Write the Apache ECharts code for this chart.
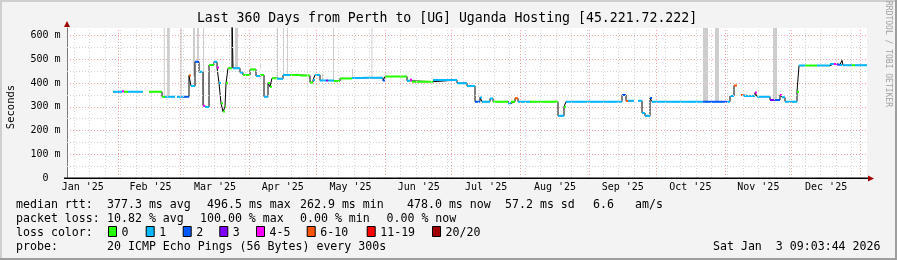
<!DOCTYPE html>
<html><head><meta charset="utf-8">
<script src="https://cdn.jsdelivr.net/npm/echarts@6/dist/echarts.min.js"></script>
<style>html,body{margin:0;padding:0;background:#f3f3f3}#c{width:897px;height:260px}</style>
</head><body><div id="c"></div>
<script>
// x values are days since 1 Jan 2025 (Feb 1 = 31)
const segStart = [28.6,32.65,33.55,35.35, 44.8,50.65,52, 57.4,60.1,62.8,63.7,65.5,67.3,69.1,70.0,71.8,74.05,75.4,76.3,77.2,78.1,79.0,79.45,80.35,82.15,82.6,85.75,87.1,90.25,92.95,94.75,96.55,98.35,99.25,100.15,102.4,105.1,108.25,112.75,117.25,118.6,119.5,121.75,124.5,125.4,128,130.75,136.15,141.1,150.1,151.0,160.9,162.25,163.15,172.6,183.4,187.9,191.5,193.75,194.65,198.25,199.6,206.35,207.7,209.5,210.85,216.25,228.85,231.55,232.45,247.75,257.65,259.45,260.35, 264.85,266.65,268.0,270.25,271.15,294.1,304.9,306.25,308.05, 311.2,312.1,317.5,318.4,324.25,326.5,328.75,329.65,331.0,336.4,337.3,340.0,345.4,351.25,353,354.5,355.75,356.65,357.1,361,362.5];
const segEnd   = [32.65,33.55,35.35,42.1, 50.65,52,56.5, 60.1,62.8,63.7,65.5,67.3,69.1,70.0,71.8,74.05,75.4,76.3,77.2,78.1,79.0,79.45,80.35,82.15,82.6,85.75,87.1,90.25,92.95,94.75,96.55,98.35,99.25,100.15,102.4,105.1,108.25,112.75,117.25,118.6,119.5,121.75,124.5,125.4,128,130.75,136.15,141.1,150.1,151.0,160.9,162.25,163.15,172.6,183.4,187.9,191.5,193.75,194.65,198.25,199.6,206.35,207.7,209.5,210.85,216.25,228.85,231.55,232.45,247.75,257.65,259.45,260.35,263.05, 266.65,268.0,270.25,271.15,294.1,304.9,306.25,308.05,309.4, 312.1,317.5,318.4,324.25,326.5,328.75,329.65,331.0,336.4,337.3,340.0,345.4,351.25,353,354.5,355.75,356.65,357.1,361,362.5,367.9];
const segValue = [364,366,364,364, 364,343,343, 343,343,432,388,490,448,305,299,477,490,466,401,315,280,300,400,463,700,463,445,434,458,430,434,343,401,385,421,418,434,434,432,403,413,434,411,411,411,409,420,422,423,411,428,410,414,406,413,400,388,322,339,322,335,322,315,322,336,322,322,262,300,322,322,350,325,326, 326,274,262,337,322,322,322,346,390, 350,346,360,343,329,329,350,340,322,364,474,474,474,481,481,478,476,496,475,475,475];
const segLoss  = [1,4,0,1, 0,0,1, 1,2,5,1,2,1,4,1,0,1,4,1,0,0,0,0,0,-1,1,1,0,0,1,0,1,0,0,0,1,1,0,0,0,1,1,1,3,1,0,0,1,1,2,0,1,4,0,1,1,1,2,1,1,1,0,1,0,5,1,0,1,0,1,1,2,5,1, 1,1,1,2,1,2,1,1,5, 5,1,4,1,3,2,4,1,1,0,1,0,1,1,4,2,1,-1,1,0,1];

// gray "smoke" columns: start day, end day, low value, high value
const smokeStart = [51.45,52.9,58.95,64.6,66.4,69.1,83.5,94.75,102.4,105.1,106.9,122.65,127.6,136.15,144.9,294.1,299.5,325.6];
const smokeEnd   = [51.9,54.15,59.5,65.5,67.3,69.6,84.85,95.2,102.85,105.55,107.35,123.1,128.05,136.6,145.35,296.35,301.3,327.4];
const smokeLow   = [343,343,343,430,490,310,463,463,420,434,434,411,410,422,423,322,322,329];
const smokeHigh  = [640,640,640,640,640,640,640,480,640,640,640,440,640,460,640,640,640,640];

const monthStarts = [31,59,90,120,151,181,212,243,273,304,334,365];
const monthLabelPos = [15,45.5,74.5,105,135.5,166.2,196.5,227.5,258,288.4,319,349.5];
const monthLabels = ["Jan '25","Feb '25","Mar '25","Apr '25","May '25","Jun '25","Jul '25","Aug '25","Sep '25","Oct '25","Nov '25","Dec '25"];
const weekLines = [11,18,25,32,39,46,53,60,67,74,81,88,95,102,109,116,123,130,137,144,151,158,165,172,179,186,193,200,207,214,221,228,235,242,249,256,263,270,277,284,291,298,305,312,319,326,333,340,347,354,361];
const yMinorLines = [50,150,250,350,450,550];

const lossColors = ['#26ff00','#00b8ff','#0059ff','#7e00ff','#ff00ff','#ff5500','#ff0000','#a10000'];
const lossLabels = ['0','1','2','3','4-5','6-10','11-19','20/20'];
const lossBoxX = [108,145.7,182.7,219.3,256,306.7,366.7,432];

const X_MIN = 7.9, X_MAX = 367.9, Y_MAX = 632.5;
const MONO = '"DejaVu Sans Mono"';

// black median path
const blackData = [];
for (let i = 0; i < segStart.length; i++) {
  if (i > 0 && Math.abs(segStart[i] - segEnd[i-1]) > 0.01) blackData.push(null);
  blackData.push([segStart[i], segValue[i]]);
  blackData.push([segEnd[i], segValue[i]]);
}
const colorSeries = lossColors.map((c, k) => {
  const d = [];
  for (let i = 0; i < segStart.length; i++) {
    if (segLoss[i] === k) { d.push([segStart[i], segValue[i]], [segEnd[i], segValue[i]], null); }
  }
  return {type:'line', data:d, showSymbol:false, symbol:'none', z:4, lineStyle:{color:c, width:2}, itemStyle:{color:c}, silent:true};
});

const chart = echarts.init(document.getElementById('c'), null, {renderer:'canvas'});
const txt = (text, x, y, size, opts={}) => Object.assign({type:'text', x:x, y:y, silent:true, z:10,
  style:Object.assign({text:text, font: size+'px '+MONO, fill:'#000', align:'left', verticalAlign:'middle', textAlign:'left', textVerticalAlign:'middle'}, opts.style||{})}, opts.el||{});

const graphics = [
  // borders
  {type:'rect', shape:{x:0,y:0,width:897,height:2}, style:{fill:'#cfcfcf'}, silent:true},
  {type:'rect', shape:{x:0,y:0,width:2,height:260}, style:{fill:'#cfcfcf'}, silent:true},
  {type:'rect', shape:{x:0,y:258,width:897,height:2}, style:{fill:'#9e9e9e'}, silent:true},
  {type:'rect', shape:{x:895,y:0,width:2,height:260}, style:{fill:'#9e9e9e'}, silent:true},
  // title
  txt('Last 360 Days from Perth to [UG] Uganda Hosting [45.221.72.222]', 447, 19, 13.2, {style:{align:'center', textAlign:'center'}}),
  // y title
  txt('Seconds', 11, 107, 10.5, {style:{align:'center', textAlign:'center'}, el:{rotation:Math.PI/2}}),
  // watermark
  txt('RRDTOOL / TOBI OETIKER', 888, 54, 8, {style:{align:'center', textAlign:'center', fill:'#a0a0a0'}, el:{rotation:-Math.PI/2}}),
  // x axis line (extends slightly left of the y axis, as in rrdtool)
  {type:'rect', shape:{x:64, y:177.5, width:804, height:1.5}, style:{fill:'#000'}, silent:true, z:9},
  // arrows
  {type:'polygon', shape:{points:[[64,27],[70,27],[67,21]]}, style:{fill:'#a00000'}, silent:true, z:10},
  {type:'polygon', shape:{points:[[868,175.5],[868,181.5],[874,178.5]]}, style:{fill:'#a00000'}, silent:true, z:10},
  // legend rows
  txt('median rtt:', 16, 204.5, 11.6),
  txt('377.3 ms avg', 107, 204.5, 11.6),
  txt('496.5 ms max', 207, 204.5, 11.6),
  txt('262.9 ms min', 300, 204.5, 11.6),
  txt('478.0 ms now', 407, 204.5, 11.6),
  txt('57.2 ms sd', 505, 204.5, 11.6),
  txt('6.6', 593, 204.5, 11.6),
  txt('am/s', 635, 204.5, 11.6),
  txt('packet loss:', 16, 218.5, 11.6),
  txt('10.82 % avg', 107, 218.5, 11.6),
  txt('100.00 % max', 200, 218.5, 11.6),
  txt('0.00 % min', 300, 218.5, 11.6),
  txt('0.00 % now', 386.5, 218.5, 11.6),
  txt('loss color:', 16, 232.5, 11.6),
  txt('probe:', 16, 246.5, 11.6),
  txt('20 ICMP Echo Pings (56 Bytes) every 300s', 107, 246.5, 11.6),
  txt('Sat Jan  3 09:03:44 2026', 880.5, 246.5, 11.6, {style:{align:'right', textAlign:'right'}})
];
lossColors.forEach((c, i) => {
  graphics.push({type:'rect', shape:{x:lossBoxX[i]+0.5, y:226.5, width:8, height:10}, style:{fill:c, stroke:'#000', lineWidth:1}, silent:true, z:10});
  graphics.push(txt(lossLabels[i], lossBoxX[i]+13.5, 232.5, 11.6));
});

const option = {
  animation:false,
  backgroundColor:'#f3f3f3',
  grid:{left:67, right:30, top:28, bottom:82, show:true, backgroundColor:'#ffffff', borderWidth:0},
  xAxis:{type:'value', min:X_MIN, max:X_MAX,
    axisLine:{show:false},
    axisTick:{show:false}, axisLabel:{show:false}, splitLine:{show:false}},
  yAxis:{type:'value', min:0, max:Y_MAX, interval:100,
    axisLine:{show:true, lineStyle:{color:'#7a7a7a', width:1}},
    axisTick:{show:false},
    axisLabel:{margin:6.5, color:'#000', fontFamily:'DejaVu Sans Mono', fontSize:10, showMaxLabel:false,
      formatter:v => (v % 100 === 0 && v <= 600) ? (v === 0 ? '0  ' : v + ' m') : ''},
    splitLine:{show:true, showMinLine:false, showMaxLine:false, lineStyle:{color:'#f2a4a4', type:[1,2], width:1}}},
  graphic:graphics,
  series:[
    // minor grid
    {type:'line', data:[], z:1, silent:true,
      markLine:{silent:true, symbol:['none','none'], label:{show:false}, animation:false,
        lineStyle:{color:'#d4d4d4', type:[1,2], width:1},
        data:weekLines.map(d => ({xAxis:d})).concat(yMinorLines.map(v => ({yAxis:v})))}},
    // major grid (months)
    {type:'line', data:[], z:1, silent:true,
      markLine:{silent:true, symbol:['none','none'], label:{show:false}, animation:false,
        lineStyle:{color:'#f2a4a4', type:[1,2], width:1},
        data:monthStarts.map(d => ({xAxis:d}))}},
    // month labels (transparent guide lines carrying the labels)
    {type:'line', data:[], z:1, silent:true,
      markLine:{silent:true, symbol:['none','none'], animation:false,
        lineStyle:{color:'rgba(0,0,0,0)', width:1},
        label:{show:true, position:'start', distance:4, color:'#000', fontFamily:'DejaVu Sans Mono', fontSize:10},
        data:monthLabelPos.map((d,i) => ({xAxis:d, label:{show:true, formatter:monthLabels[i]}}))}},
    // smoke columns
    {type:'line', data:[], z:2, silent:true,
      markArea:{silent:true, animation:false, itemStyle:{color:'#cdcdcd'},
        data:smokeStart.map((s,i) => [{xAxis:s, yAxis:smokeLow[i]}, {xAxis:smokeEnd[i], yAxis:Math.min(smokeHigh[i], Y_MAX)}])}},
    // black median line
    {type:'line', data:blackData, z:3, showSymbol:false, symbol:'none', silent:true, lineStyle:{color:'#000', width:1}}
  ].concat(colorSeries)
};
chart.setOption(option);
</script></body></html>
